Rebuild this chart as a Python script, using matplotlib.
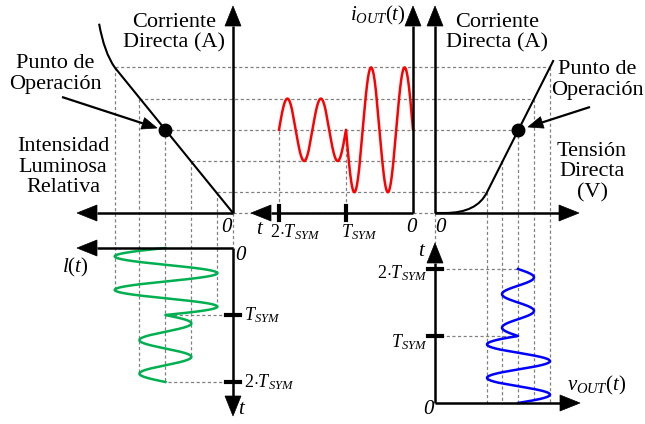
import numpy as np
import matplotlib.pyplot as plt
from matplotlib.path import Path
from matplotlib.patches import PathPatch, Polygon

plt.rcParams['font.family'] = 'Liberation Serif'
plt.rcParams['mathtext.fontset'] = 'custom'
plt.rcParams['mathtext.rm'] = 'Liberation Serif'
plt.rcParams['mathtext.it'] = 'Liberation Serif:italic'

# LED operating levels (current, forward voltage, relative luminous intensity)
i_levels = [10, 25, 40, 55, 70]            # mA
v_levels = [2.6, 3.35, 4.15, 4.95, 5.75]   # V
lum_levels = [12, 32, 52, 72, 91]          # %
i_bias = 40
i_amp = [30, 15]        # amplitude in each T_SYM interval
i_sign = [1, -1]        # phase of each interval
cycles = 2              # periods per T_SYM

# curve ends outside the operating range
lum_tail = [(99.1, 77.2), (103, 91)]       # (ctrl, end) in (%, mA)
v_knee = [(0.5, 0), (2.1, 0)]              # (start, ctrl) in (V, mA)
v_top = (5.93, 73.5)

# layout (pixel units)
XL0, XM0, XR0 = 233, 413, 435
Y0, YBL0, YBR0 = 213, 248, 403
I_SCALE, V_SCALE, L_SCALE, T_SCALE = 2.08, 20, 1.3, 67

def py_i(i):
    return Y0 - np.asarray(i) * I_SCALE

def px_lum(l):
    return XL0 - np.asarray(l) * L_SCALE

def px_v(v):
    return XR0 + np.asarray(v) * V_SCALE

fig = plt.figure(figsize=(6.45, 4.24), dpi=100)
ax = fig.add_axes([0, 0, 1, 1])
ax.set_xlim(0, 645)
ax.set_ylim(424, 0)
ax.axis('off')

DASH = dict(color='#808080', lw=0.9, ls=(0, (2.5, 2)), zorder=1)

def arrow(x0, y0, x1, y1, hl=20, hw=8, lw=1.8):
    tip = np.array([x1, y1], float)
    d = tip - np.array([x0, y0], float)
    u = d / np.hypot(*d)
    n = np.array([-u[1], u[0]])
    base = tip - u * hl
    ax.plot([x0, base[0]], [y0, base[1]], color='k', lw=lw,
            solid_capstyle='butt', zorder=4)
    ax.add_patch(Polygon([tip, base + n * hw, base - n * hw], closed=True,
                         fc='k', ec='k', lw=0.5, zorder=4))

def tick(x, y, vertical):
    if vertical:
        ax.plot([x, x], [y - 7, y + 7], color='k', lw=3, zorder=4)
    else:
        ax.plot([x - 7, x + 7], [y, y], color='k', lw=3, zorder=4)

# current waveform and what it becomes on each characteristic
t = np.linspace(0, 2, 801)
seg = np.minimum(np.floor(t), 1).astype(int)
i_t = i_bias + np.take(i_amp, seg) * np.take(i_sign, seg) * \
    np.sin(2 * np.pi * cycles * (t - seg))
lum_t = np.interp(i_t, i_levels, lum_levels)
v_t = np.interp(i_t, i_levels, v_levels)

# dashed guides
for lev, lum, v in zip(i_levels, lum_levels, v_levels):
    y = py_i(lev)
    ax.plot([px_lum(lum), px_v(v)], [y, y], **DASH)
    hit = np.where(np.abs(i_t - lev) < 0.5)[0]
    t_last = t[hit.max()]
    ax.plot([px_lum(lum)] * 2, [y, YBL0 + t_last * T_SCALE], **DASH)
    ax.plot([px_v(v)] * 2, [y, YBR0], **DASH)
ax.plot([XL0, XR0], [Y0, Y0], **DASH)
ax.plot([XL0, XL0], [Y0, YBL0], **DASH)
ax.plot([XR0, XR0], [Y0, YBR0 - 160], **DASH)
for k in (1, 2):
    ax.plot([XM0 - k * T_SCALE] * 2, [Y0, py_i(i_bias)], **DASH)
    ax.plot([XL0, px_lum(np.interp(i_bias, i_levels, lum_levels))],
            [YBL0 + k * T_SCALE] * 2, **DASH)
    ax.plot([XR0, px_v(np.interp(i_bias, i_levels, v_levels))],
            [YBR0 - k * T_SCALE] * 2, **DASH)

# axes
arrow(XL0, Y0, XL0, 6)
arrow(XL0, Y0, 77, Y0)
arrow(XM0, Y0, XM0, 6)
arrow(XM0, Y0, 251, Y0)
arrow(XR0, Y0, XR0, 6)
arrow(XR0, Y0, 579, Y0)
arrow(XL0, YBL0, 77, YBL0)
arrow(XL0, YBL0, XL0, 416)
arrow(XR0, YBR0, XR0, 243)
arrow(XR0, YBR0, 580, YBR0)
for k in (1, 2):
    tick(XM0 - k * T_SCALE, Y0, True)
    tick(XL0, YBL0 + k * T_SCALE, False)
    tick(XR0, YBR0 - k * T_SCALE, False)

# luminous intensity vs current
p0 = (px_lum(lum_levels[-1]), py_i(i_levels[-1]))
left = Path([(px_lum(lum_tail[1][0]), py_i(lum_tail[1][1])),
             (px_lum(lum_tail[0][0]), py_i(lum_tail[0][1])),
             p0, (XL0, Y0)],
            [Path.MOVETO, Path.CURVE3, Path.CURVE3, Path.LINETO])
ax.add_patch(PathPatch(left, fc='none', ec='k', lw=1.5, zorder=3))

# current vs forward voltage
right = Path([(XR0, Y0), (px_v(v_knee[0][0]), py_i(v_knee[0][1])),
              (px_v(v_knee[1][0]), py_i(v_knee[1][1])),
              (px_v(v_levels[0]), py_i(i_levels[0])),
              (px_v(v_top[0]), py_i(v_top[1]))],
             [Path.MOVETO, Path.LINETO, Path.CURVE3, Path.CURVE3, Path.LINETO])
ax.add_patch(PathPatch(right, fc='none', ec='k', lw=1.5, zorder=3))

# operating points
op_lum = np.interp(i_bias, i_levels, lum_levels)
op_v = np.interp(i_bias, i_levels, v_levels)
ax.plot([px_lum(op_lum), px_v(op_v)], [py_i(i_bias)] * 2, 'o', color='k',
        ms=9, ls='none', zorder=5)
arrow(62, 97, 157, 128, hl=15, hw=6, lw=1.6)
arrow(590, 107, 528, 127, hl=15, hw=6, lw=1.6)

# waveforms
ax.plot(XM0 - t * T_SCALE, py_i(i_t), color='#ff0000', lw=1.8, zorder=3)
ax.plot(px_lum(lum_t), YBL0 + t * T_SCALE, color='#00b050', lw=1.8, zorder=3)
ax.plot(px_v(v_t), YBR0 - t * T_SCALE, color='#0000ff', lw=1.8, zorder=3)

# text
TXT = dict(fontsize=16, ha='center', va='center', linespacing=1.1)
ax.text(174, 33, 'Corriente\nDirecta (A)', **TXT)
ax.text(497, 33, 'Corriente\nDirecta (A)', **TXT)
ax.text(55, 74, 'Punto de\nOperación', **TXT)
ax.text(597, 80, 'Punto de\nOperación', **TXT)
ax.text(63, 167, 'Intensidad\nLuminosa\nRelativa', **TXT)
ax.text(592, 172, 'Tensión\nDirecta\n(V)', **TXT)

IT = dict(fontsize=15, ha='center', va='center', fontstyle='italic')
ax.text(226, 228, '0', **IT)
ax.text(411, 228, '0', **IT)
ax.text(440, 228, '0', **IT)
ax.text(240, 255, '0', **IT)
ax.text(428, 410, '0', **IT)
ax.text(259, 230, 't', **IT)
ax.text(421, 251, 't', **IT)
ax.text(241, 410, 't', **IT)
ax.text(378, 15, r'$i_{OUT}(t)$', **IT)
ax.text(75, 267, r'$l(t)$', **IT)
ax.text(597, 385, r'$v_{OUT}(t)$', **IT)

TS = dict(fontsize=13, va='center')
ax.text(XM0 - 2 * T_SCALE - 9, 232, r'$\mathit{2}{\cdot}T_{SYM}$', ha='left', **TS)
ax.text(XM0 - T_SCALE - 5, 232, r'$T_{SYM}$', ha='left', **TS)
ax.text(244, YBL0 + T_SCALE, r'$T_{SYM}$', ha='left', **TS)
ax.text(244, YBL0 + 2 * T_SCALE, r'$\mathit{2}{\cdot}T_{SYM}$', ha='left', **TS)
ax.text(427, YBR0 - T_SCALE + 6, r'$T_{SYM}$', ha='right', **TS)
ax.text(427, YBR0 - 2 * T_SCALE + 4, r'$\mathit{2}{\cdot}T_{SYM}$', ha='right', **TS)

fig.savefig('out.png', dpi=100)
